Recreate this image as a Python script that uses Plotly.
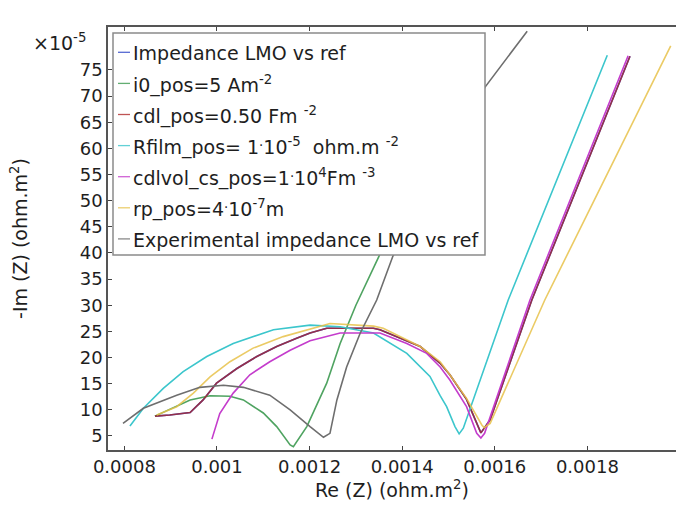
import plotly.graph_objects as go

# ---- data (Re in ohm.m^2, -Im in units of 1e-5 ohm.m^2) ----
ref_x = [0.000866, 0.000898, 0.000942, 0.000970, 0.000999, 0.001043, 0.001086, 0.001129,
         0.001172, 0.001201, 0.001237, 0.001338, 0.001352, 0.001395, 0.001439, 0.001482,
         0.001503, 0.001539, 0.001560, 0.001570, 0.001590, 0.001680, 0.001892]
ref_y = [8.8, 9.0, 9.5, 11.9, 15.1, 17.9, 20.2, 22.1,
         23.7, 24.7, 25.6, 25.6, 25.3, 23.7, 22.1, 18.9,
         16.7, 12.0, 7.5, 5.6, 8.1, 31.0, 77.6]

i0_x = [0.000866, 0.000913, 0.000942, 0.000985, 0.001028, 0.001057, 0.001100, 0.001129,
        0.001158, 0.001165, 0.001194, 0.001237, 0.001266, 0.001300, 0.001350, 0.001520]
i0_y = [8.8, 10.7, 11.9, 12.7, 12.6, 11.9, 9.4, 6.8,
        3.3, 2.95, 6.8, 15.1, 22.7, 30.0, 39.4, 78.0]

cdl_x = ref_x
cdl_y = ref_y

rfilm_x = [0.000812, 0.000841, 0.000884, 0.000927, 0.000978, 0.001035, 0.001122, 0.001201,
           0.001266, 0.001338, 0.001410, 0.001460, 0.001482, 0.001496, 0.001514, 0.001523,
           0.001532, 0.001546, 0.001583, 0.001629, 0.001843]
rfilm_y = [6.9, 10.3, 14.1, 17.3, 20.2, 22.7, 25.3, 26.2,
           25.9, 24.7, 20.8, 16.4, 12.7, 10.6, 6.8, 5.4,
           6.5, 10.0, 19.5, 31.0, 77.8]

cdlvol_x = [0.000989, 0.001006, 0.001035, 0.001071, 0.001114, 0.001158, 0.001201, 0.001266,
            0.001352, 0.001410, 0.001453, 0.001482, 0.001503, 0.001539, 0.001561, 0.001570,
            0.001578, 0.001676, 0.001888]
cdlvol_y = [4.4, 9.3, 13.2, 16.7, 19.2, 21.4, 23.2, 24.7,
            24.7, 22.7, 20.8, 18.2, 15.7, 10.6, 5.5, 4.6,
            5.5, 31.0, 77.7]

rp_x = [0.000870, 0.000913, 0.000949, 0.000985, 0.001028, 0.001078, 0.001143, 0.001201,
        0.001244, 0.001338, 0.001359, 0.001439, 0.001482, 0.001503, 0.001539, 0.001572,
        0.001577, 0.001590, 0.001708, 0.001980]
rp_y = [9.0, 10.6, 13.2, 16.3, 19.2, 21.8, 24.0, 25.4,
        26.5, 26.0, 25.6, 22.1, 19.2, 16.7, 12.2, 7.1,
        6.6, 7.4, 31.0, 79.6]

exp_x = [0.000797, 0.000841, 0.000913, 0.000963, 0.001014, 0.001057, 0.001114, 0.001158,
         0.001201, 0.001230, 0.001244, 0.001259, 0.001280, 0.001309, 0.001345, 0.001380,
         0.001579, 0.001670]
exp_y = [7.4, 10.3, 12.8, 14.3, 14.7, 14.3, 12.8, 10.0,
         6.8, 4.75, 5.5, 11.9, 18.2, 24.6, 31.0, 39.4,
         71.7, 82.4]

series_names = [
    "Impedance LMO vs ref",
    "i0_pos=5 Am<sup>-2</sup>",
    "cdl_pos=0.50 Fm <sup>-2</sup>",
    "Rfilm_pos= 1<sup>.</sup>10<sup>-5</sup>\u00a0\u00a0ohm.m <sup>-2</sup>",
    "cdlvol_cs_pos=1<sup>.</sup>10<sup>4</sup>Fm <sup>-3</sup>",
    "rp_pos=4<sup>.</sup>10<sup>-7</sup>m",
    "Experimental impedance LMO vs ref",
]
series_colors = ["#2c44c8", "#3c9a50", "#b02a2a", "#3cc6cc", "#c43ccc", "#e8c24a", "#6e6e6e"]
series_opacity = [1.0, 0.9, 0.8, 1.0, 1.0, 0.85, 1.0]
series_data = [(ref_x, ref_y), (i0_x, i0_y), (cdl_x, cdl_y), (rfilm_x, rfilm_y),
               (cdlvol_x, cdlvol_y), (rp_x, rp_y), (exp_x, exp_y)]

y_ticks = [5, 10, 15, 20, 25, 30, 35, 40, 45, 50, 55, 60, 65, 70, 75]
x_ticks = [0.0008, 0.001, 0.0012, 0.0014, 0.0016, 0.0018]
x_ticklabels = ["0.0008", "0.001", "0.0012", "0.0014", "0.0016", "0.0018"]

FONT = "DejaVu Sans"
W, H = 676, 506
ML, MR, MT, MB = 108, 0, 27, 56
PW, PH = W - ML - MR, H - MT - MB

fig = go.Figure()
for (xs, ys), name, col, op in zip(series_data, series_names, series_colors, series_opacity):
    fig.add_trace(go.Scatter(x=xs, y=ys, mode="lines", name=name,
                             line=dict(color=col, width=1.6), opacity=op,
                             showlegend=False))

def px2paper_x(px):
    return (px - ML) / PW

def py2paper_y(py):
    return (H - MB - py) / PH

# manual legend box
shapes = [dict(type="rect", xref="paper", yref="paper",
               x0=px2paper_x(113), x1=px2paper_x(485),
               y0=py2paper_y(255), y1=py2paper_y(33),
               fillcolor="white", line=dict(color="#8a8a8a", width=1.5), layer="above")]
annotations = []
row0, step = 53.3, 31.1
for i, (name, col) in enumerate(zip(series_names, series_colors)):
    yc = row0 + i * step
    shapes.append(dict(type="line", xref="paper", yref="paper",
                       x0=px2paper_x(118), x1=px2paper_x(130),
                       y0=py2paper_y(yc - 1), y1=py2paper_y(yc - 1),
                       line=dict(color=col, width=1.3), opacity=0.8, layer="above"))
    annotations.append(dict(text=name, xref="paper", yref="paper",
                            x=px2paper_x(131), y=py2paper_y(yc),
                            xanchor="left", yanchor="middle", showarrow=False,
                            font=dict(family=FONT, size=19, color="#1e1e1e")))

annotations.append(dict(text="\u00d710<sup>-5</sup>", xref="paper", yref="paper",
                        x=px2paper_x(31), y=py2paper_y(42), xanchor="left", yanchor="middle",
                        showarrow=False, font=dict(family=FONT, size=19, color="#1e1e1e")))

fig.update_layout(
    width=W, height=H,
    margin=dict(l=ML, r=MR, t=MT, b=MB),
    paper_bgcolor="white", plot_bgcolor="white",
    font=dict(family=FONT, size=18, color="#1e1e1e"),
    shapes=shapes, annotations=annotations,
    showlegend=False,
)
fig.update_xaxes(range=[0.0007646, 0.0019914], tickvals=x_ticks, ticktext=x_ticklabels,
                 ticks="inside", ticklen=4, tickcolor="#444", showline=True, linecolor="#555",
                 linewidth=1.5, mirror="ticks", showgrid=False, zeroline=False,
                 tickfont=dict(family=FONT, size=18, color="#1e1e1e"),
                 title=dict(text="Re (Z) (ohm.m<sup>2</sup>)", font=dict(family=FONT, size=19),
                            standoff=4))
fig.update_yaxes(range=[2.32, 83.2], tickvals=y_ticks, ticks="inside", ticklen=4,
                 tickcolor="#444", showline=True, linecolor="#555", linewidth=1.5,
                 showgrid=False, zeroline=False,
                 tickfont=dict(family=FONT, size=18, color="#1e1e1e"),
                 title=dict(text="-Im (Z) (ohm.m<sup>2</sup>)", font=dict(family=FONT, size=19),
                            standoff=47))

fig.write_html("out.html")
